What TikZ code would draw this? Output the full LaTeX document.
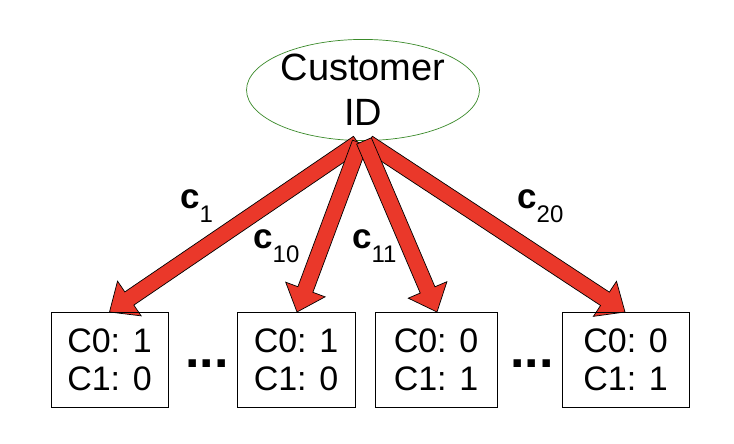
\documentclass[tikz,border=0pt]{standalone}
\usepackage{fontspec}
\setmainfont{Liberation Sans}
\usetikzlibrary{shapes.geometric,calc}
\definecolor{arred}{HTML}{EA382A}
\definecolor{elgreen}{HTML}{3A8A2A}
\newcommand{\blockarr}[3]{%
  \coordinate (#1h) at ($(#3)!24pt!(#2)$);
  \draw[arrowbody] ($(#2)!8pt!90:(#3)$) -- ($(#1h)!8pt!90:(#3)$) -- ($(#1h)!21pt!90:(#3)$) -- (#3)
    -- ($(#1h)!21pt!-90:(#3)$) -- ($(#1h)!8pt!-90:(#3)$) -- ($(#2)!8pt!-90:(#3)$) -- cycle;
}
\tikzset{
  arrowbody/.style={fill=arred, draw=black, line width=0.7pt, line join=miter},
  cell/.style={draw=black, line width=0.8pt, rectangle, minimum height=95, inner sep=0, align=center,
    font=\fontsize{34}{38}\selectfont},
  lbl/.style={inner sep=0, anchor=base west, font=\fontsize{35}{35}\selectfont},
  dots/.style={inner sep=0, anchor=base, font=\fontsize{52}{52}\selectfont\bfseries},
}
\newcommand{\mysubscr}[1]{\raisebox{-14pt}{\fontsize{24}{24}\selectfont\mdseries #1}}
\begin{document}
\begin{tikzpicture}[x=1pt,y=-1pt]
\useasboundingbox (0,0) rectangle (734,444);
\node[ellipse, draw=elgreen, line width=0.7pt, minimum width=230, minimum height=96, inner sep=0,
  align=center, font=\fontsize{38}{45}\selectfont] (cid) at (363,90) {Customer\\ID};
\path (cid.south) ++(-5,2) coordinate (s1);
\path (cid.south) ++(-3,2) coordinate (s2);
\path (cid.south) ++(1,0) coordinate (s3);
\path (cid.south) ++(5,2) coordinate (s4);
\coordinate (t1) at (109.5,312);
\coordinate (t2) at (297,312);
\coordinate (t3) at (437,312);
\coordinate (t4) at (625,312);
\blockarr{a1}{s1}{t1}
\blockarr{a2}{s2}{t2}
\blockarr{a4}{s4}{t4}
\blockarr{a3}{s3}{t3}
\node[cell, minimum width=117] (b1) at (109.5,359.5) {C0: 1\\C1: 0};
\node[cell, minimum width=118] (b2) at (296,359.5) {C0: 1\\C1: 0};
\node[cell, minimum width=122] (b3) at (436,359.5) {C0: 0\\C1: 1};
\node[cell, minimum width=127] (b4) at (625.5,359.5) {C0: 0\\C1: 1};
\node[dots] (d1) at (207,367) {...};
\node[dots] (d2) at (532,367) {...};
\node[lbl] (l1) at (180,208) {\textbf{c}\mysubscr{1}};
\node[lbl] (l2) at (253,248) {\textbf{c}\mysubscr{10}};
\node[lbl] (l3) at (352,248) {\textbf{c}\mysubscr{11}};
\node[lbl] (l4) at (517,208) {\textbf{c}\mysubscr{20}};
\end{tikzpicture}
\end{document}
